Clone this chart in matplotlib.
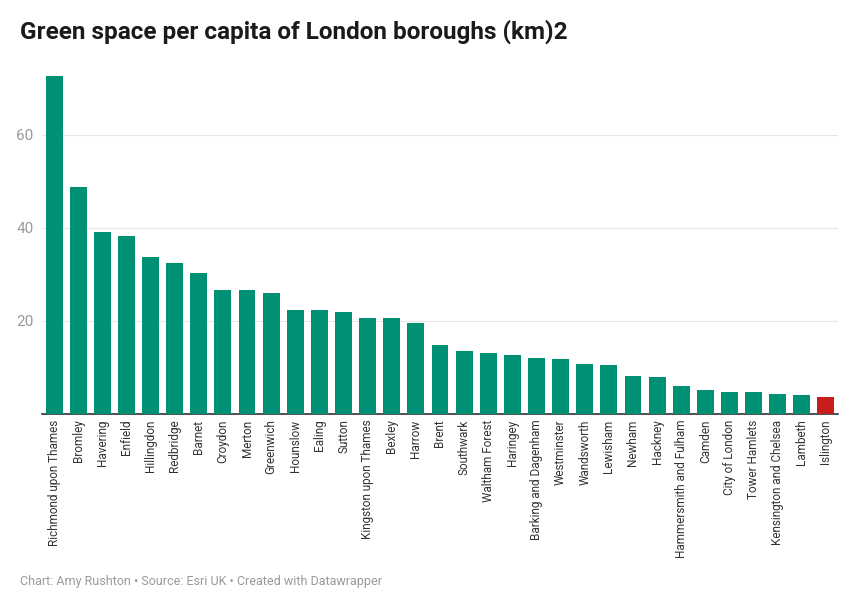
import matplotlib.pyplot as plt

boroughs = ["Richmond upon Thames", "Bromley", "Havering", "Enfield", "Hillingdon", "Redbridge",
            "Barnet", "Croydon", "Merton", "Greenwich", "Hounslow", "Ealing", "Sutton",
            "Kingston upon Thames", "Bexley", "Harrow", "Brent", "Southwark", "Waltham Forest",
            "Haringey", "Barking and Dagenham", "Westminster", "Wandsworth", "Lewisham", "Newham",
            "Hackney", "Hammersmith and Fulham", "Camden", "City of London", "Tower Hamlets",
            "Kensington and Chelsea", "Lambeth", "Islington"]
green_space = [72.6, 48.8, 39.1, 38.3, 33.8, 32.5, 30.3, 26.6, 26.6, 26.0, 22.4, 22.3, 22.0,
               20.7, 20.6, 19.5, 14.9, 13.5, 13.1, 12.6, 12.1, 11.8, 10.8, 10.6, 8.1, 7.9,
               6.1, 5.1, 4.8, 4.7, 4.4, 4.0, 3.6]
highlight = "Islington"

plt.rcParams['font.family'] = ['Roboto', 'DejaVu Sans']
fig = plt.figure(figsize=(8.66, 6.05), dpi=100)
ax = fig.add_axes([42 / 866, 191 / 605, 796 / 866, 340 / 605])

colors = ["#c71e1d" if b == highlight else "#009073" for b in boroughs]
x = range(len(boroughs))
ax.bar(x, green_space, width=0.7, color=colors, zorder=3)
ax.set_xlim(-0.5, len(boroughs) - 0.5)
ax.set_ylim(0, 73)
ax.set_yticks([20, 40, 60])
ax.yaxis.grid(True, color="#e6e6e6", linewidth=0.8, zorder=0)
ax.tick_params(axis='y', length=0, labelsize=11, labelcolor="#999999", pad=6)
ax.set_xticks(list(x))
ax.set_xticklabels(boroughs, rotation=90, fontsize=8.5, color="#333333")
ax.tick_params(axis='x', length=0, pad=4)
for s in ["top", "right", "left"]:
    ax.spines[s].set_visible(False)
ax.spines["bottom"].set_color("#333333")
ax.spines["bottom"].set_linewidth(1.2)

fig.text(20 / 866, 1 - 32 / 605, "Green space per capita of London boroughs (km)2",
         fontsize=17.5, fontweight="bold", va="center", color="#1a1a1a")
fig.text(20 / 866, 1 - 581 / 605, "Chart: Amy Rushton • Source: Esri UK • Created with Datawrapper",
         fontsize=9, va="center", color="#999999")

fig.savefig("out.png", dpi=100)
